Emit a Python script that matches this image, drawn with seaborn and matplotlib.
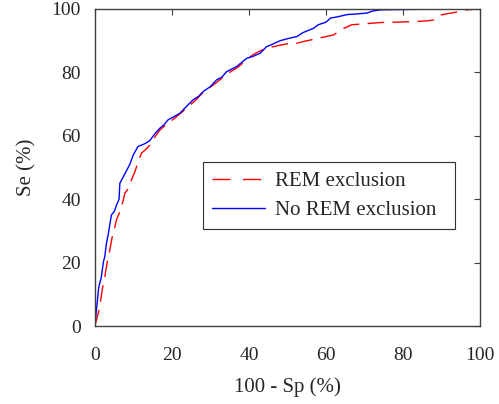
import pandas as pd
import seaborn as sns
import matplotlib.pyplot as plt

# ROC curve points: 100 - Sp (%) and Se (%)
fpr_no_rem = [0, 0.5, 1.0, 1.7, 2.2, 2.6, 3.0, 3.5, 3.9, 4.3, 5.0, 5.6, 6.3, 6.5, 7.8,
              9.1, 10.0, 11.2, 13.0, 14.3, 15.5, 16.9, 18.0, 19.0, 20.5, 22.1, 24.0,
              25.5, 27.0, 28.1, 30.0, 31.6, 33.0, 34.2, 36.8, 38.0, 39.4, 41.0, 42.9,
              44.6, 46.0, 48.2, 50.0, 52.5, 54.0, 56.8, 58.0, 60.0, 61.2, 63.0, 65.5,
              68.0, 70.7, 72.0, 74.2, 80.0, 87.1, 90.0, 100]
se_no_rem = [0, 6, 12, 15.5, 20, 22, 26, 29, 32, 35, 36, 38, 40, 45, 48,
             51, 54, 56.6, 57.5, 58.5, 60.5, 62.4, 63.5, 65, 66, 67.1, 69.5,
             71.3, 72.5, 73.9, 75.5, 77.6, 78.5, 80.2, 81.8, 83, 84.4, 85, 86,
             88.1, 88.8, 90, 90.6, 91.3, 92.5, 93.9, 95, 95.8, 97.1, 97.5, 98.2,
             98.4, 98.7, 99.3, 99.7, 99.8, 99.9, 100, 100]

fpr_rem = [0, 0.9, 1.5, 2.0, 2.6, 3.2, 3.9, 4.5, 5.0, 5.6, 6.5, 7.4, 7.8, 8.5, 9.5,
           10.5, 11.3, 12.1, 13.5, 14.7, 15.8, 16.9, 18.0, 19.5, 21.0, 22.5, 24.5,
           26.0, 28.0, 30.0, 31.8, 33.5, 35.0, 37.0, 39.0, 41.0, 42.5, 44.0, 46.0,
           48.2, 50.0, 52.5, 54.5, 56.8, 59.0, 62.0, 64.0, 66.7, 70.0, 74.2, 78.0,
           82.9, 86.0, 88.1, 89.9, 92.0, 94.0, 96.6, 100]
se_rem = [0, 4, 8, 12, 15.5, 20, 24, 28, 30, 33.4, 36, 39.7, 41.9, 43, 46,
          49, 52, 54.5, 56, 57.6, 60, 61.8, 63, 64.4, 65.8, 67.3, 69.5,
          71, 73.5, 75.3, 77, 78.7, 80, 81.5, 83.5, 85.5, 86.5, 87.3, 88,
          88.6, 89, 89.2, 89.8, 90.4, 91, 91.8, 93.5, 95, 95.3, 95.7, 95.8,
          96, 96.2, 96.5, 98.1, 98.6, 99, 99.7, 100]

df_rem = pd.DataFrame({"fpr": fpr_rem, "se": se_rem})
df_no_rem = pd.DataFrame({"fpr": fpr_no_rem, "se": se_no_rem})

sns.set_style("white")
plt.rcParams["font.family"] = ["Liberation Serif", "DejaVu Serif"]
plt.rcParams["font.size"] = 14

fig = plt.figure(figsize=(4.99, 4.04), dpi=100)
ax = fig.add_axes([0.190, 0.193, 0.772, 0.785])

sns.lineplot(data=df_rem, x="fpr", y="se", sort=False, estimator=None,
             color="#ff0000", linewidth=1.0, ax=ax, label="REM exclusion")
ax.lines[-1].set_dashes((12, 6))
sns.lineplot(data=df_no_rem, x="fpr", y="se", sort=False, estimator=None,
             color="#0000ff", linewidth=1.0, ax=ax, label="No REM exclusion")

ax.set_xlim(0, 100)
ax.set_ylim(0, 100)
ax.set_xticks([0, 20, 40, 60, 80, 100])
ax.set_yticks([0, 20, 40, 60, 80, 100])
ax.tick_params(direction="in", length=4, width=0.8, color="#404040",
               top=True, right=True, labelsize=14)
ax.tick_params(axis="x", pad=15)
ax.tick_params(axis="y", pad=10)
for s in ax.spines.values():
    s.set_color("#404040")
    s.set_linewidth(1.0)

ax.set_xlabel("100 - Sp (%)", fontsize=15, labelpad=10)
ax.set_ylabel("Se (%)", fontsize=15, labelpad=11)

leg = ax.legend(loc="upper left", bbox_to_anchor=(0.2805, 0.306, 0.6545, 0.211),
                mode="expand", fontsize=15, frameon=True, fancybox=False,
                shadow=False, framealpha=1, edgecolor="#303030",
                handlelength=2.55, borderpad=0.45, labelspacing=0.45,
                handletextpad=0.45, borderaxespad=0)
leg.get_frame().set_linewidth(0.8)
leg.get_lines()[0].set_dashes((13, 9))

fig.savefig("out.png", dpi=100)
